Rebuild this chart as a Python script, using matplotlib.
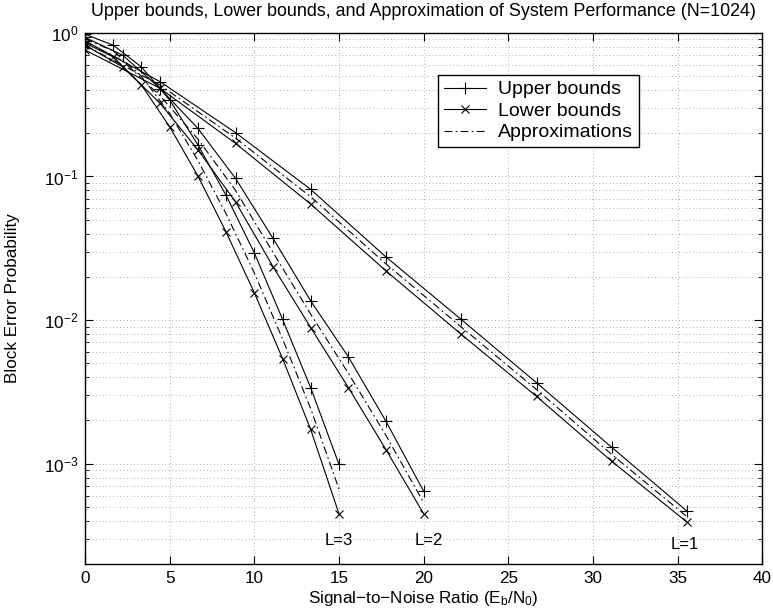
import numpy as np
import matplotlib
matplotlib.use('Agg')
import matplotlib.pyplot as plt

plt.rcParams['font.family'] = ['Liberation Sans', 'DejaVu Sans']
plt.rcParams['mathtext.fontset'] = 'custom'
plt.rcParams['mathtext.rm'] = 'Liberation Sans'
plt.rcParams['mathtext.it'] = 'Liberation Sans'

# L = 1
snr_l1 = [0, 4.44, 8.89, 13.33, 17.78, 22.22, 26.67, 31.11, 35.56]
upper_l1 = [0.88, 0.457, 0.202, 0.0813, 0.0275, 0.0101, 0.00366, 0.0013, 0.000467]
lower_l1 = [0.76, 0.411, 0.170, 0.0642, 0.0220, 0.00796, 0.00294, 0.00104, 0.000391]
approx_l1 = [0.82, 0.433, 0.185, 0.0722, 0.0246, 0.00897, 0.00328, 0.00116, 0.000427]

# L = 2
snr_l2 = [0, 2.22, 4.44, 6.67, 8.89, 11.11, 13.33, 15.56, 17.78, 20]
upper_l2 = [0.93, 0.70, 0.41, 0.216, 0.097, 0.037, 0.0136, 0.00553, 0.00197, 0.000643]
lower_l2 = [0.82, 0.58, 0.323, 0.153, 0.0666, 0.0235, 0.00887, 0.00338, 0.00125, 0.000448]
approx_l2 = [0.87, 0.64, 0.364, 0.182, 0.080, 0.0295, 0.0110, 0.00425, 0.00157, 0.000537]

# L = 3
snr_l3 = [0, 1.67, 3.33, 5, 6.67, 8.33, 10, 11.67, 13.33, 15]
upper_l3 = [0.98, 0.82, 0.58, 0.341, 0.166, 0.074, 0.0294, 0.0101, 0.00338, 0.00099]
lower_l3 = [0.85, 0.68, 0.434, 0.222, 0.1007, 0.0411, 0.0155, 0.00539, 0.00173, 0.000448]
approx_l3 = [0.91, 0.75, 0.50, 0.275, 0.129, 0.0551, 0.0213, 0.00738, 0.00242, 0.000666]

curve_labels = ['L=1', 'L=2', 'L=3']
label_pos = [(35.4, 2.75e-4), (20.3, 2.9e-4), (15.0, 2.9e-4)]

fig = plt.figure(figsize=(7.73, 6.14), dpi=100)
ax = fig.add_axes([0.110, 0.0814, 0.876, 0.865])

fs = 12.3
lw = 0.8
dashdot = (0, (7, 3, 1.5, 3))
sets = [(snr_l1, upper_l1, lower_l1, approx_l1),
        (snr_l2, upper_l2, lower_l2, approx_l2),
        (snr_l3, upper_l3, lower_l3, approx_l3)]
for i, (x, up, lo, ap) in enumerate(sets):
	ax.plot(x, up, color='k', lw=lw, marker='+', ms=9, mew=0.8,
	        label='Upper bounds' if i == 0 else None)
	ax.plot(x, lo, color='k', lw=lw, marker='x', ms=5.5, mew=0.8,
	        label='Lower bounds' if i == 0 else None)
	ax.plot(x, ap, color='k', lw=lw, linestyle=dashdot,
	        label='Approximations' if i == 0 else None)

for txt, (tx, ty) in zip(curve_labels, label_pos):
	ax.text(tx, ty, txt, ha='center', va='center', fontsize=12)

ax.set_yscale('log')
ax.set_xlim(0, 40)
ax.set_ylim(2e-4, 1)
ax.set_xticks(range(0, 41, 5))
ax.set_yticks([1e-3, 1e-2, 1e-1, 1])
ax.grid(True, which='major', axis='x', color='0.4', linestyle=(0, (1, 4)), lw=0.5)
ax.grid(True, which='both', axis='y', color='0.4', linestyle=(0, (1, 4)), lw=0.5)
ax.tick_params(which='both', direction='in', top=True, right=True, labelsize=fs)
ax.tick_params(which='major', length=6, pad=5)
ax.tick_params(which='minor', length=3)
for s in ax.spines.values():
	s.set_linewidth(1.0)

ax.set_title('Upper bounds, Lower bounds, and Approximation of System Performance (N=1024)',
             fontsize=12.9, pad=12)
ax.set_xlabel(r'Signal$-$to$-$Noise Ratio (E$_\mathregular{b}$/N$_\mathregular{0}$)',
              fontsize=fs, labelpad=2)
ax.set_ylabel('Block Error Probability', fontsize=fs, labelpad=17)

leg = ax.legend(loc='upper right', bbox_to_anchor=(0.818, 0.921), borderaxespad=0,
                fontsize=14, fancybox=False, framealpha=1, edgecolor='k',
                handlelength=2.2, handletextpad=0.6, borderpad=0.3, labelspacing=0.2)
leg.get_frame().set_linewidth(1.0)

fig.savefig('out.png', dpi=100)
